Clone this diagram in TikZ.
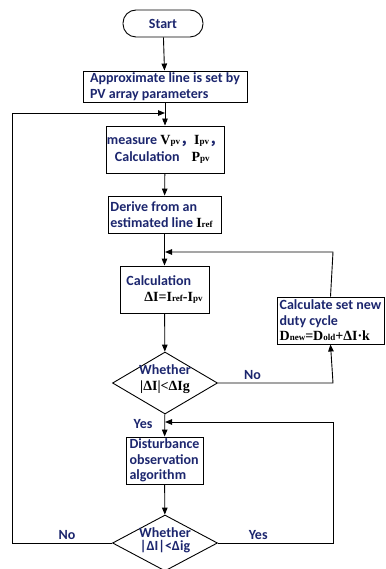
\documentclass[tikz,border=0pt]{standalone}
\usepackage{fontspec}
\setmainfont{Carlito}
\newfontfamily\serf{Liberation Serif}
\newfontfamily\cjkf{Noto Sans CJK SC}
\usetikzlibrary{shapes.geometric,arrows.meta,calc}
\definecolor{navy}{RGB}{28,38,110}
\newcommand\smtx[1]{{\fontsize{9}{9}\selectfont #1}}
\newcommand\mth[1]{{\serf\bfseries\color{black}#1}}
\begin{document}
\begin{tikzpicture}[x=1pt,y=-1pt,
  txt/.style={font=\bfseries\fontsize{14}{15.5}\selectfont, text=navy},
  box/.style={txt, draw, line width=0.9pt, inner sep=1pt, align=left},
  dia/.style={draw, diamond, line width=0.9pt, inner sep=0pt},
  arr/.style={-{Triangle[length=7pt,width=5.5pt]}, line width=0.9pt},
  ln/.style={line width=0.9pt}]
\useasboundingbox (0,0) rectangle (385,569);

\node[box, rectangle, rounded corners=13pt, minimum width=80pt, minimum height=27pt, align=center] (st) at (163,23.5) {Start};
\node[box, minimum width=164pt, minimum height=31pt, inner ysep=0pt] (b1) at (165,86.5) {Approximate line is set by\\PV array parameters};
\node[box, minimum width=114pt, minimum height=47pt] (b2) at (165,149.5) {measure \mth{V\smtx{pv}}{\cjkf ，}\mth{I\smtx{pv}}{\cjkf ，}\\[2pt]\hspace*{8pt}Calculation\hspace*{12pt}\mth{P\smtx{pv}}};
\node[box, minimum width=113pt, minimum height=37pt] (b3) at (164.5,214.5) {Derive from an\\estimated line \mth{I\smtx{ref}}\hspace*{6pt}};
\node[box, minimum width=89pt, minimum height=47pt] (b4) at (164.5,289.5) {Calculation\\\hspace*{18pt}\mth{ΔI=I\smtx{ref}-I\smtx{pv}}};
\node[box, minimum width=107pt, minimum height=47pt, inner ysep=0pt] (b5) at (330.5,320.5) {Calculate set new\\duty cycle\\\mth{D\smtx{new}=D\smtx{old}+ΔI·k}};
\node[box, minimum width=77pt, minimum height=47pt, inner ysep=0pt] (b6) at (164.5,460.5) {Disturbance\\observation\\algorithm};

\node[dia, minimum width=105pt, minimum height=62pt] (d1) at (165,383) {};
\node[txt, align=center] (t1) at (165,379) {Whether\\\mth{|ΔI|<ΔIg}};
\node[dia, minimum width=105pt, minimum height=56pt] (d2) at (165,543) {};
\node[txt, align=center, font=\bfseries\fontsize{14}{13}\selectfont] (t2) at (165,540) {Whether\\|ΔI|<Δig};

\coordinate (j1) at (165,113);
\coordinate (j2) at (165,252);
\coordinate (j3) at (165,422);
\coordinate (xl) at (12,0);
\coordinate (xr) at (333,0);

\draw[arr] (st) -- (b1);
\draw[arr] (b1) -- (b2);
\draw[arr] (b2) -- (b3);
\draw[arr] (b3) -- (b4);
\draw[arr] (b4) -- (d1);
\draw[arr] (d1) -- (b6);
\draw[arr] (b6) -- (d2);

\draw[arr] (d1.east) -- node[txt, above, pos=0.3] (no1) {No} (xr |- d1.east) -- (b5.south);
\draw[arr] (b5.north) -- (xr |- j2) -- (j2);
\draw[arr] (d2.west) -- node[txt, above, pos=0.45] (no2) {No} (xl |- d2.west) -- (xl |- j1) -- (j1);
\draw[arr] (d2.east) -- node[txt, above, pos=0.35] (ye2) {Yes} (xr |- d2.east) -- (xr |- j3) -- (j3);
\node[txt] (ye1) at (143,424) {Yes};
\end{tikzpicture}
\end{document}
